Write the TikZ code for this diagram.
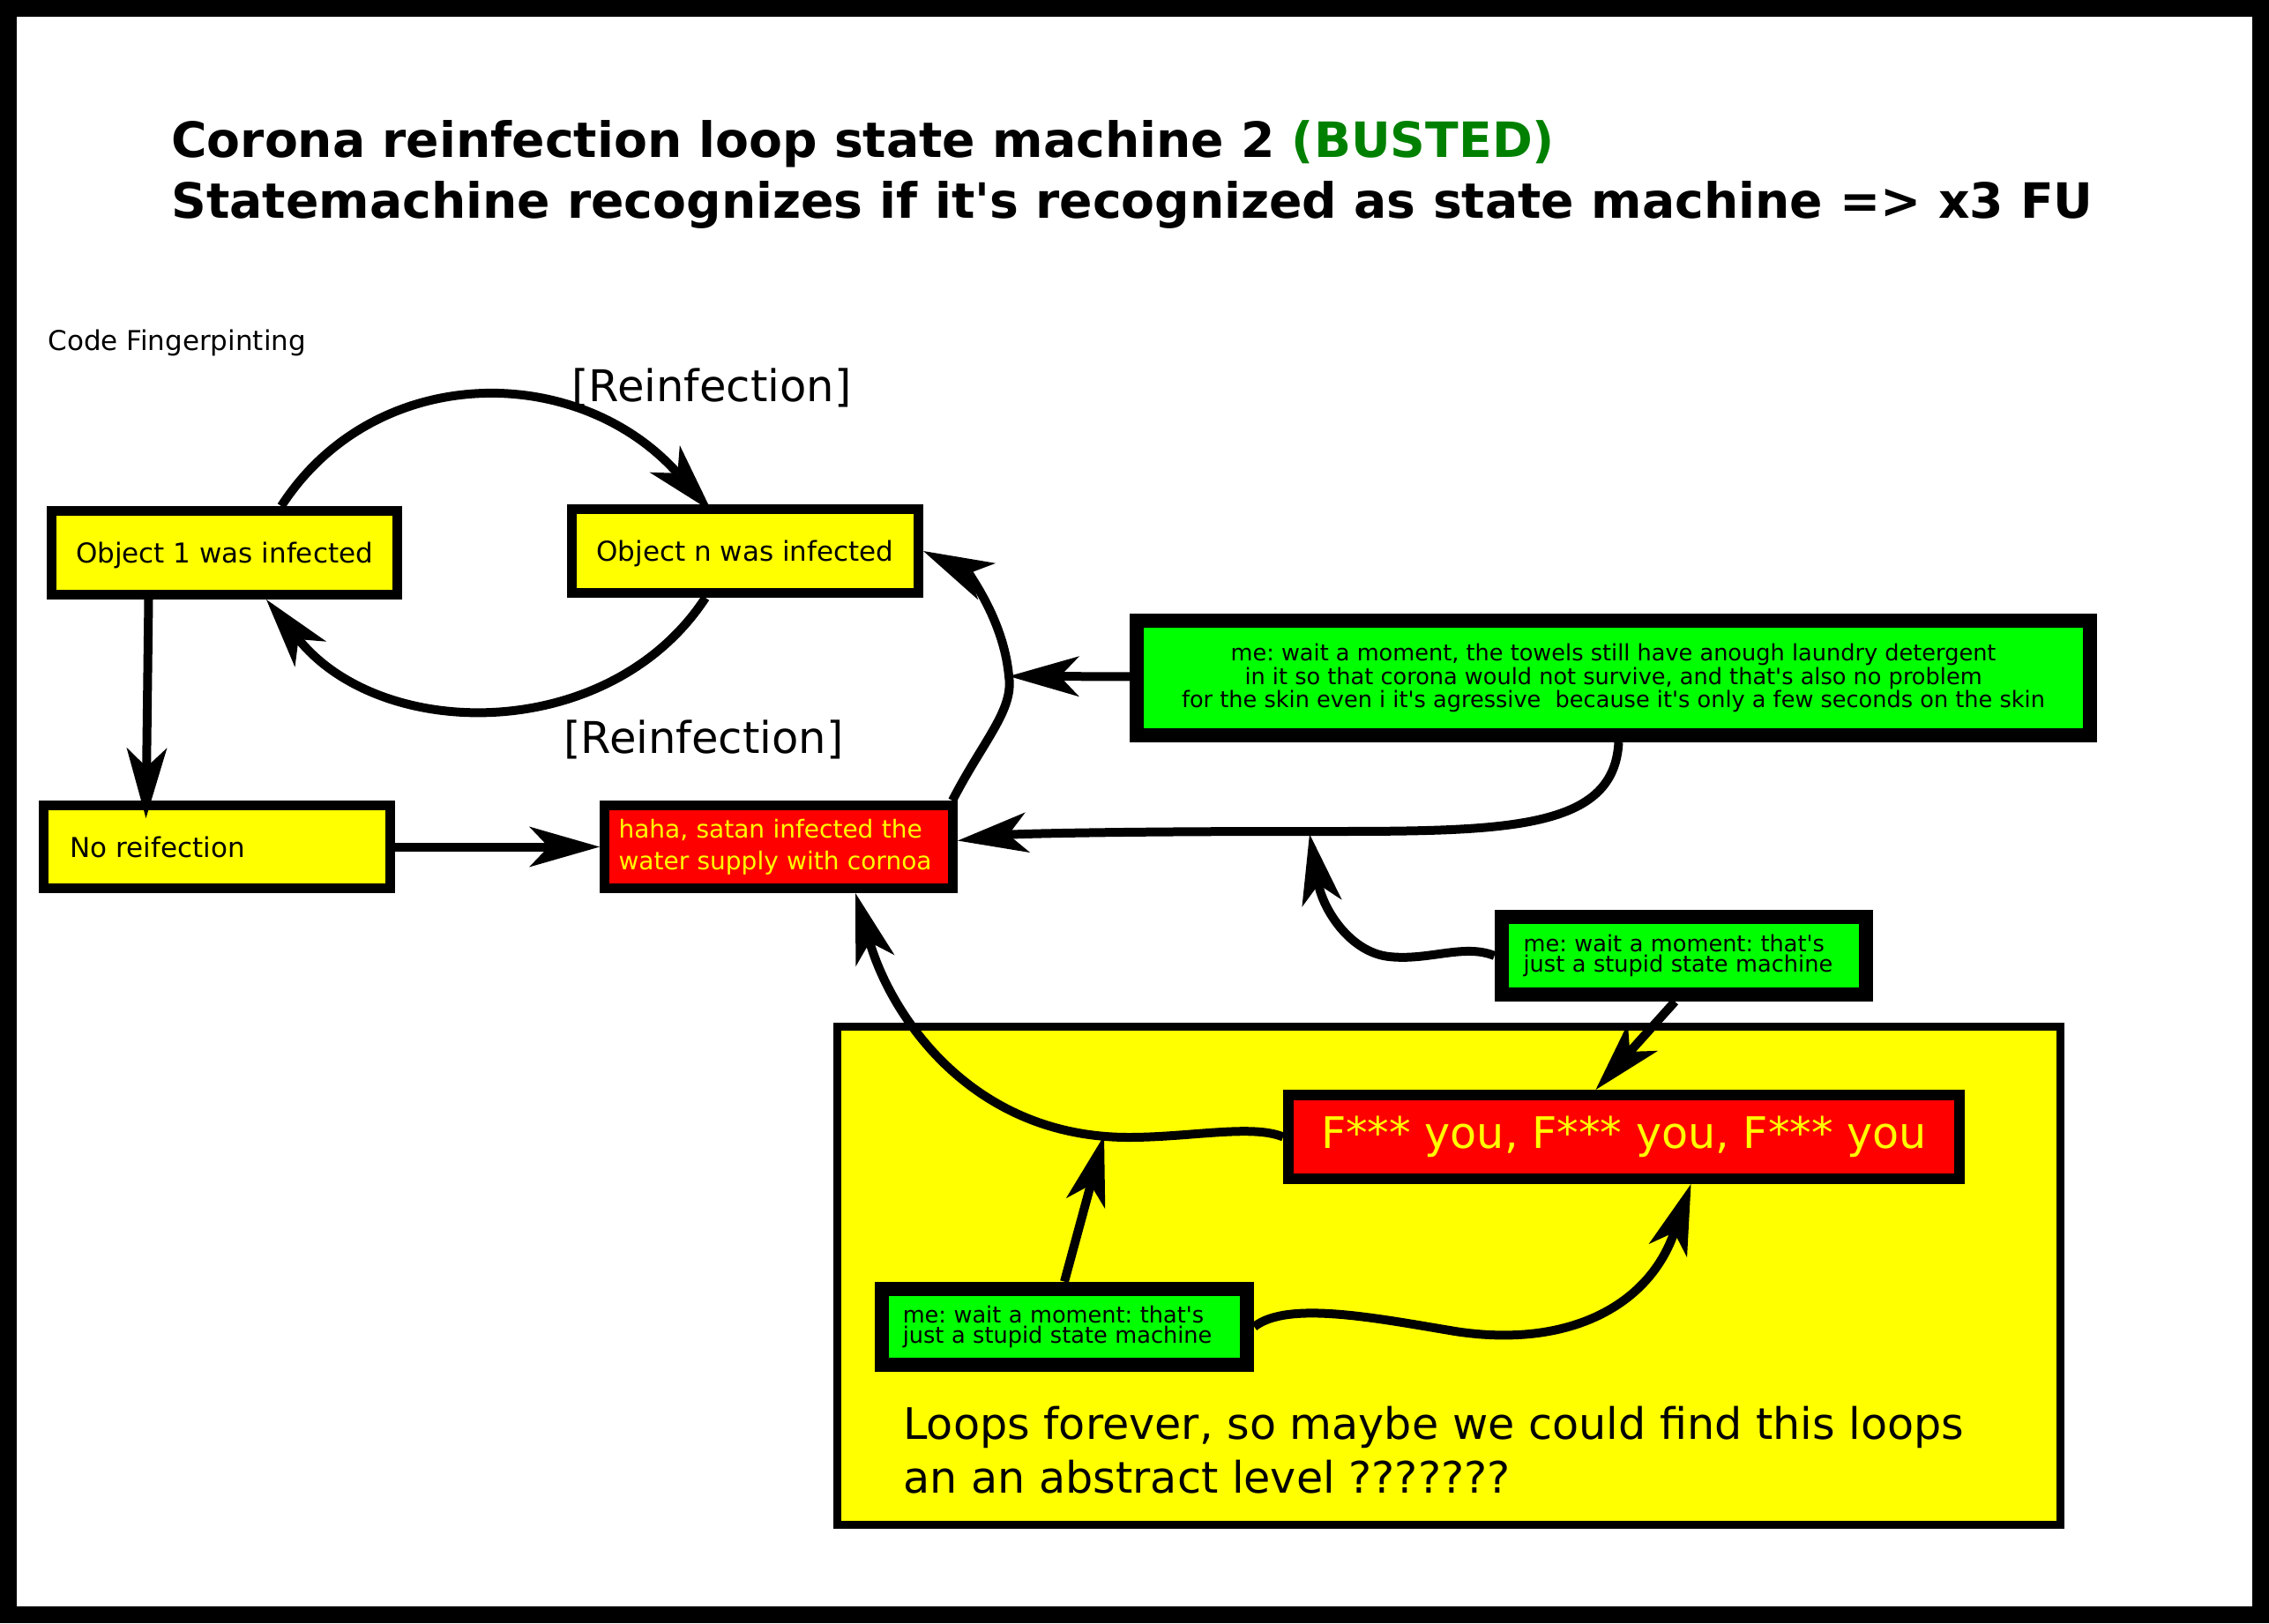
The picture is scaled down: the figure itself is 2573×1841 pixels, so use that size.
\documentclass[tikz,border=0pt]{standalone}
\usepackage{fontspec}
\setmainfont{DejaVu Sans}[Ligatures=TeXOff]
\usetikzlibrary{arrows.meta,calc}
\definecolor{pyellow}{RGB}{255,255,0}
\definecolor{pgreen}{RGB}{0,255,0}
\definecolor{pred}{RGB}{255,0,0}
\definecolor{dgreen}{RGB}{0,128,0}
\frenchspacing
\begin{document}
\begin{tikzpicture}[x=0.5pt,y=-0.5pt,
  box/.style={draw=black, inner sep=0pt, anchor=center},
  ybox/.style={box, fill=pyellow, line width=5.5pt, text depth=0pt, font=\fontsize{15.5}{18}\selectfont},
  rbox/.style={box, fill=pred, text=pyellow},
  gbox/.style={box, fill=pgreen, line width=8pt, font=\fontsize{12.8}{11.5}\selectfont},
  conn/.style={line width=5pt, -{Stealth[length=40pt,width=23pt,inset=11pt,line width=0pt]}},
  lbl/.style={inner sep=0pt}
]
\useasboundingbox (0,0) rectangle (2573,1841);
\fill[black] (0,0) rectangle (2573,1841);
\fill[white] (19,19) rectangle (2554,1822);

% title
\node[lbl, anchor=north west, align=left, font=\fontsize{27.6}{34.5}\selectfont\bfseries] (title) at (194,136)
  {Corona reinfection loop state machine 2 \textcolor{dgreen}{(BUSTED)}\\Statemachine recognizes if it's recognized as state machine => x3 FU};
\node[lbl, anchor=base west, font=\fontsize{15.5}{18}\selectfont] (cf) at (54,397) {Code Fingerpinting};
\node[lbl, anchor=base west, font=\fontsize{24.8}{28}\selectfont] (r1) at (648,455) {[Reinfection]};
\node[lbl, anchor=base west, font=\fontsize{24.8}{28}\selectfont] (r2) at (639,854) {[Reinfection]};

% left states
\node[ybox, minimum width=196pt, minimum height=47.5pt] (o1) at (254.5,627) {Object 1 was infected};
\node[ybox, minimum width=196.5pt, minimum height=47.5pt] (on) at (845,625) {Object n was infected};
\node[ybox, minimum width=196.5pt, minimum height=47pt, text width=166.5pt, align=left] (nr) at (245.5,960.5) {No reifection};
\node[rbox, line width=5.5pt, minimum width=197.5pt, minimum height=47pt, text width=181.5pt, align=left, font=\fontsize{14}{18}\selectfont] (hh) at (883,960.5)
  {\mbox{haha, satan infected the}\\\mbox{water supply with cornoa}};

% green notes
\node[gbox, minimum width=540.5pt, minimum height=65pt, align=center] (g1) at (1829.5,769)
  {me: wait a moment, the towels still have anough laundry detergent\\in it so that corona would not survive, and that's also no problem\\for the skin even i it's agressive\ \ because it's only a few seconds on the skin};
\node[gbox, minimum width=206.7pt, minimum height=44pt, text width=181.7pt, align=left] (g2) at (1909.3,1084)
  {\mbox{me: wait a moment: that's}\\\mbox{just a stupid state machine}};

% yellow region
\node[box, fill=pyellow, line width=4.5pt, minimum width=693.5pt, minimum height=282.5pt] (yb) at (1643,1447) {};
\node[rbox, line width=6pt, minimum width=380.5pt, minimum height=47.5pt, font=\fontsize{24.6}{28}\selectfont] (fb) at (1841.5,1289.5) {F*** you, F*** you, F*** you};
\node[gbox, minimum width=207.25pt, minimum height=43.2pt, text width=183.25pt, align=left] (g3) at (1207,1504.8)
  {\mbox{me: wait a moment: that's}\\\mbox{just a stupid state machine}};
\node[lbl, anchor=north west, align=left, font=\fontsize{24.6}{30.5}\selectfont] (loops) at (1024,1595)
  {Loops forever, so maybe we could find this loops\\an an abstract level ???????};

% connectors
\draw[conn] ($(o1.north)+(64.5,0)$) .. controls (425,410) and (655,410) .. ($(on.north)+(-38,8)$);
\draw[conn] ($(on.south)+(-45,0)$) .. controls (692,843) and (434,843) .. ($(o1.south)+(47.5,0)$);
\draw[conn] ($(o1.south)+(-86,0)$) -- ($(nr.north)+(-80,20)$);
\draw[conn] (nr.east) -- (hh.west);

\coordinate (cv) at (1144,767);
\coordinate (ch) at (1485,946);
\coordinate (cj) at (1252,1288);

\draw[conn] ($(hh.north east)+(-6,0)$) .. controls (1115,840) and (1150,805) .. (cv) .. controls (1138,700) and (1095,648) .. (on.east);
\draw[conn] (g1) -- (cv);
\draw[conn] ($(g1.south)+(6,0)$) .. controls (1830,945) and (1700,943) .. (1480,943) .. controls (1250,943) and (1150,946) .. ($(hh.east)+(0,-7)$);
\draw[conn] (g2.west) .. controls (1660,1070) and (1620,1090) .. (1575,1085) .. controls (1530,1080) and (1500,1030) .. (ch);
\draw[conn] ($(g2.south)+(-10,0)$) -- ($(fb.north)+(-32,0)$);
\draw[conn] (fb.west) .. controls (1420,1275) and (1350,1290) .. (1280,1290) .. controls (1100,1290) and (1010,1150) .. ($(hh.south)+(87,0)$);
\draw[conn] (g3.north) -- (cj);
\draw[conn] (g3.east) .. controls (1460,1475) and (1560,1495) .. (1650,1510) .. controls (1780,1530) and (1870,1480) .. ($(fb.south)+(76,0)$);
\end{tikzpicture}
\end{document}
